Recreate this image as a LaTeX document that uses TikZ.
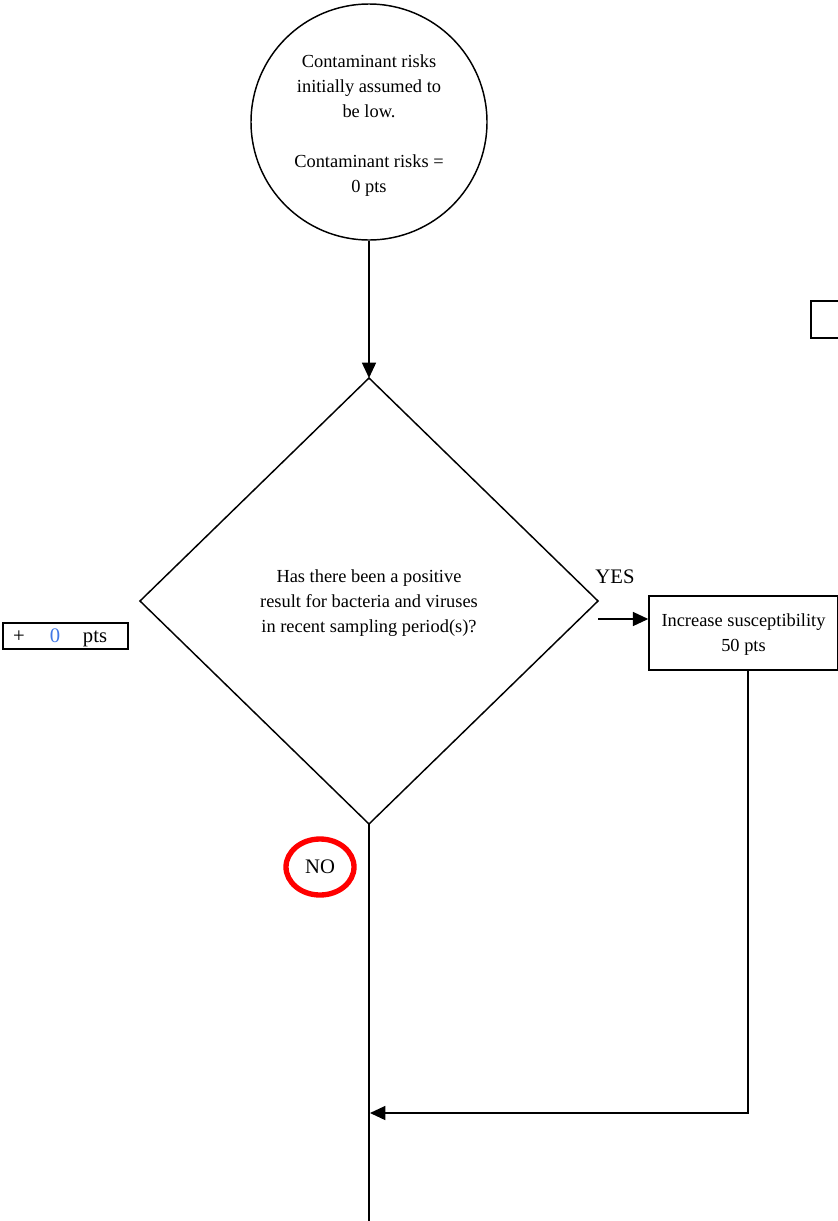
\documentclass[tikz,border=0pt]{standalone}
\usepackage{fontspec}
\setmainfont{Liberation Serif}
\usetikzlibrary{shapes.geometric,arrows.meta}
\definecolor{zeroblue}{RGB}{66,120,230}
\tikzset{
  conn/.style={draw=black,line width=1.1pt},
  arr/.style={conn,-{Triangle[length=11.5pt,width=10.5pt]}},
  txt/.style={font=\fontsize{13.8}{18.75}\selectfont,align=center,inner sep=0pt},
  big/.style={font=\fontsize{15.5}{18}\selectfont,inner sep=0pt},
}
\begin{document}
\begin{tikzpicture}[x=0.75pt,y=-0.75pt]
\useasboundingbox[fill=white] (0,0) rectangle (838,1221);
% start circle
\node[draw,circle,line width=1.1pt,minimum size=236*0.75pt] (start) at (369,122) {};
\node[txt] (starttxt) at (369,126) {Contaminant risks\\initially assumed to\\be low.\\[18.75pt]Contaminant risks =\\0 pts};
% diamond
\coordinate (dtop) at (369,378);
\coordinate (dleft) at (140,601);
\coordinate (dright) at (598,601);
\coordinate (dbot) at (369,824);
\draw[line width=1.1pt] (dtop) -- (dright) -- (dbot) -- (dleft) -- cycle;
\node[txt] (q) at (369,603) {Has there been a positive\\result for bacteria and viruses\\in recent sampling period(s)?};
% arrow circle to diamond
\draw[arr] (start.south) -- (dtop);
% YES
\node[big] (yes) at (615,577) {YES};
\node[draw,line width=1.1pt,minimum width=189*0.75pt,minimum height=74*0.75pt,txt] (inc) at (743.5,633) {};
\node[txt] (inctxt) at (743.5,635) {Increase susceptibility\\50 pts};
\coordinate (yesstart) at (598,619);
\draw[arr] (yesstart) -- (inc.west |- yesstart);
% bottom line
\coordinate (bottom) at (369,1221);
\draw[conn] (dbot) -- (bottom);
% return arrow
\coordinate (incout) at (748,670);
\coordinate (corner) at (748,1113);
\coordinate (join) at (370,1113);
\draw[arr] (incout) -- (corner) -- (join);
% NO
\node[draw=red,line width=4pt,ellipse,minimum width=68*0.75pt,minimum height=56*0.75pt] (noell) at (320,867) {};
\node[big] (no) at (320,867) {NO};
% left points box
\node[draw,line width=2.2pt,minimum width=125*0.75pt,minimum height=26*0.75pt,inner sep=0pt] (ptsbox) at (65.5,636) {};
\node[big,anchor=base] (plus) at (19,642) {+};
\node[big,anchor=base,text=zeroblue] (zero) at (55,642) {0};
\node[big,anchor=base] (pts) at (95,642) {pts};
% top right small box (clipped)
\draw[line width=1.6pt] (845,301) -- (811,301) -- (811,338) -- (845,338);
\end{tikzpicture}
\end{document}
